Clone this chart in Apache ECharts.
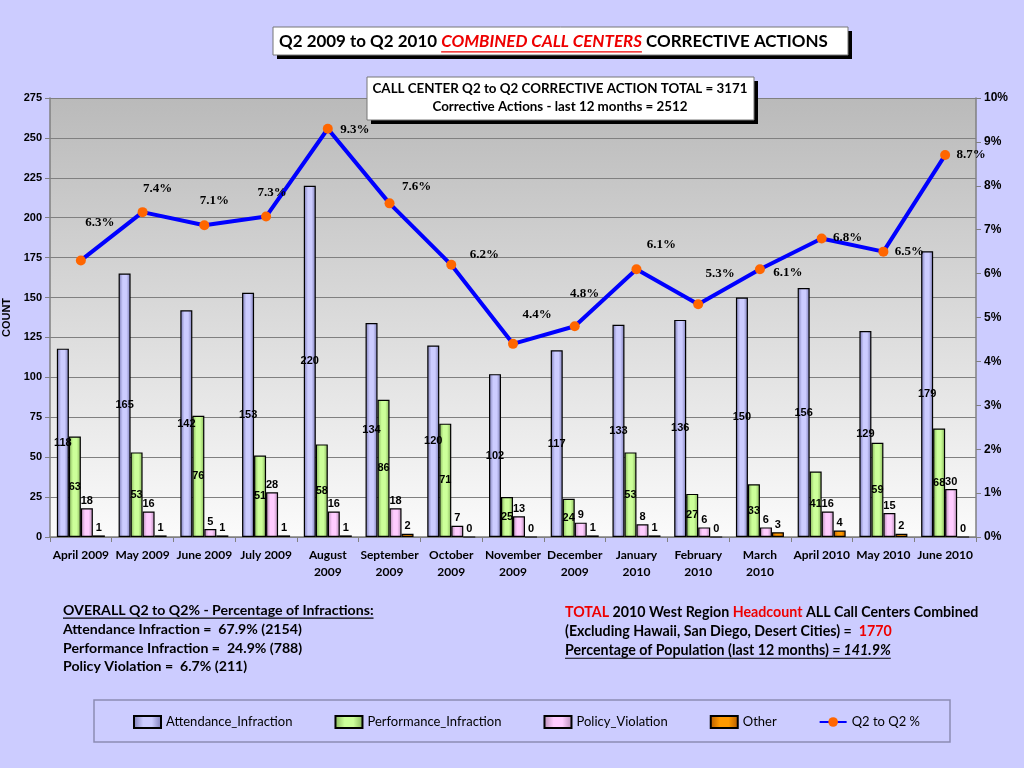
<!DOCTYPE html>
<html style="height: 100%">
<head>
    <meta charset="utf-8">
</head>
<body style="height: 100%; margin: 0; background: #ccccff">
<div id="container" style="height: 100%"></div>

<script type="text/javascript" src="https://cdn.jsdelivr.net/npm/echarts@6/dist/echarts.min.js"></script>

<script type="text/javascript">
    // data
    var months = ['April 2009', 'May 2009', 'June 2009', 'July 2009', 'August\n2009', 'September\n2009',
        'October\n2009', 'November\n2009', 'December\n2009', 'January\n2010', 'February\n2010',
        'March\n2010', 'April 2010', 'May 2010', 'June 2010'];
    var attendance = [118, 165, 142, 153, 220, 134, 120, 102, 117, 133, 136, 150, 156, 129, 179];
    var performance = [63, 53, 76, 51, 58, 86, 71, 25, 24, 53, 27, 33, 41, 59, 68];
    var policy = [18, 16, 5, 28, 16, 18, 7, 13, 9, 8, 6, 6, 16, 15, 30];
    var other = [1, 1, 1, 1, 1, 2, 0, 0, 1, 1, 0, 3, 4, 2, 0];
    var q2Pct = [6.3, 7.4, 7.1, 7.3, 9.3, 7.6, 6.2, 4.4, 4.8, 6.1, 5.3, 6.1, 6.8, 6.5, 8.7];

    // where each % label sits relative to its point (style only)
    var pctLabelOffset = [[19, -38], [15, -23], [10, -25], [6, -24], [27, 1], [27, -17], [33, -10],
        [24, -29], [10, -33], [25, -25], [22, -31], [28, 3], [26, -1], [26, 0], [26, 0]];

    var dom = document.getElementById('container');
    var myChart = echarts.init(dom);

    var face = 'Lato';
    var ctx = document.createElement('canvas').getContext('2d');
    function measure(str, size, italic) {
        ctx.font = (italic ? 'italic ' : '') + 'bold ' + size + 'px ' + face;
        return ctx.measureText(str).width;
    }
    function fitSize(str, target) {
        return 20 * target / measure(str, 20);
    }

    // one line of mixed text parts, with optional underline
    function textLine(parts, x, y, size) {
        var els = [];
        parts.forEach(function (p) {
            var w = measure(p.t, size, p.italic);
            els.push({
                type: 'text', x: x, y: y, z: 20,
                style: {
                    text: p.t, fill: p.color || '#000',
                    font: (p.italic ? 'italic ' : '') + 'bold ' + size + 'px ' + face,
                    textAlign: 'left', textVerticalAlign: 'middle'
                }
            });
            if (p.under) {
                els.push({
                    type: 'line', z: 20,
                    shape: {x1: x, y1: y + size * 0.58, x2: x + w, y2: y + size * 0.58},
                    style: {stroke: p.color || '#000', lineWidth: 1.2}
                });
            }
            x += w;
        });
        return els;
    }

    function shadowBox(x, y, w, h) {
        return [
            {type: 'rect', z: 10, shape: {x: x + 4, y: y + 4, width: w, height: h}, style: {fill: '#000'}},
            {type: 'rect', z: 11, shape: {x: x, y: y, width: w, height: h}, style: {fill: '#fff', stroke: '#777', lineWidth: 1}}
        ];
    }

    var titleStr = 'Q2 2009 to Q2 2010 COMBINED CALL CENTERS CORRECTIVE ACTIONS';
    var titleSize = fitSize(titleStr, 564);
    var subA = 'CALL CENTER Q2 to Q2 CORRECTIVE ACTION TOTAL = 3171';
    var subB = 'Corrective Actions - last 12 months = 2512';
    var subSize = fitSize(subA, 375);
    var leftHead = 'OVERALL Q2 to Q2% - Percentage of Infractions:';
    var leftSize = fitSize(leftHead, 311);
    var rightHead = 'TOTAL 2010 West Region Headcount ALL Call Centers Combined';
    var rightSize = fitSize(rightHead, 414);

    var graphics = [];
    graphics = graphics.concat(shadowBox(273, 27, 575, 28));
    graphics = graphics.concat(textLine([
        {t: 'Q2 2009 to Q2 2010 '},
        {t: 'COMBINED CALL CENTERS', color: '#ee0000', italic: true, under: true},
        {t: ' CORRECTIVE ACTIONS'}
    ], 279, 42, titleSize));

    graphics = graphics.concat(shadowBox(367, 77, 387, 43));
    graphics = graphics.concat(textLine([{t: subA}], 560 - measure(subA, subSize) / 2, 89, subSize));
    graphics = graphics.concat(textLine([{t: subB}], 560 - measure(subB, subSize) / 2, 107, subSize));

    graphics = graphics.concat(textLine([{t: leftHead, under: true}], 63, 610, leftSize));
    graphics = graphics.concat(textLine([{t: 'Attendance Infraction =  67.9% (2154)'}], 63, 629, leftSize));
    graphics = graphics.concat(textLine([{t: 'Performance Infraction =  24.9% (788)'}], 63, 648, leftSize));
    graphics = graphics.concat(textLine([{t: 'Policy Violation =  6.7% (211)'}], 63, 666, leftSize));

    graphics = graphics.concat(textLine([
        {t: 'TOTAL', color: '#ee0000'}, {t: ' 2010 West Region '},
        {t: 'Headcount', color: '#ee0000'}, {t: ' ALL Call Centers Combined'}
    ], 565, 612, rightSize));
    graphics = graphics.concat(textLine([
        {t: '(Excluding Hawaii, San Diego, Desert Cities) =  '}, {t: '1770', color: '#ee0000'}
    ], 565, 631, rightSize));
    graphics = graphics.concat(textLine([
        {t: 'Percentage of Population (last 12 months) ', under: true},
        {t: '= 141.9%', italic: true, under: true}
    ], 565, 650, rightSize));

    // legend frame
    graphics.push({type: 'rect', z: 0, shape: {x: 94, y: 700, width: 856, height: 42},
        style: {fill: '#ccccff', stroke: '#8c8cb4', lineWidth: 1.5}});

    function barFill(edge, mid) {
        return new echarts.graphic.LinearGradient(0, 0, 1, 0, [
            {offset: 0, color: edge}, {offset: 0.35, color: mid},
            {offset: 0.65, color: mid}, {offset: 1, color: edge}
        ]);
    }

    var barLabelFont = {fontFamily: 'Liberation Sans', fontWeight: 'bold', fontSize: 11, color: '#000'};

    function barSeries(name, data, edge, mid, pos) {
        return {
            name: name, type: 'bar', data: data, barWidth: 12, barGap: '0%',
            itemStyle: {color: barFill(edge, mid), borderColor: '#000', borderWidth: 1.2},
            label: Object.assign({show: true, position: pos, distance: 2}, barLabelFont)
        };
    }

    option = {
        backgroundColor: '#ccccff',
        animation: false,
        grid: {
            left: 50, right: 48, top: 98, bottom: 231, show: true,
            outerBoundsMode: 'none', containLabel: false,
            borderWidth: 0,
            backgroundColor: new echarts.graphic.LinearGradient(0, 0, 0, 1, [
                {offset: 0, color: '#bababa'}, {offset: 1, color: '#fbfbfb'}
            ])
        },
        legend: {
            left: 133, top: 715, padding: 0, itemGap: 42, itemWidth: 27, itemHeight: 12,
            textStyle: {fontFamily: face, fontSize: 13, color: '#000'},
            data: [
                {name: 'Attendance_Infraction', icon: 'rect'},
                {name: 'Performance_Infraction', icon: 'rect'},
                {name: 'Policy_Violation', icon: 'rect'},
                {name: 'Other', icon: 'rect'},
                'Q2 to Q2 %'
            ]
        },
        xAxis: {
            type: 'category', data: months,
            axisLine: {lineStyle: {color: '#808080', width: 1.5}},
            axisTick: {show: true, length: 5, lineStyle: {color: '#808080'}},
            axisLabel: {interval: 0, margin: 10, lineHeight: 17, fontFamily: face, fontWeight: 'bold', fontSize: 12, color: '#000'}
        },
        yAxis: [{
            type: 'value', min: 0, max: 275, interval: 25,
            name: 'COUNT', nameLocation: 'middle', nameGap: 38, nameRotate: 90,
            nameTextStyle: {fontFamily: 'Liberation Sans', fontWeight: 'bold', fontSize: 11, color: '#000'},
            axisLine: {show: true, lineStyle: {color: '#808080', width: 1.5}},
            axisTick: {show: true, length: 5, lineStyle: {color: '#808080'}},
            axisLabel: {fontFamily: 'Liberation Sans', fontWeight: 'bold', fontSize: 11, color: '#000', margin: 8},
            splitLine: {lineStyle: {color: '#808080', width: 1}}
        }, {
            type: 'value', min: 0, max: 10, interval: 1,
            axisLine: {show: true, lineStyle: {color: '#808080', width: 1.5}},
            axisTick: {show: true, length: 5, lineStyle: {color: '#808080'}},
            axisLabel: {formatter: '{value}%', fontFamily: 'Liberation Sans', fontWeight: 'bold', fontSize: 12, color: '#000', margin: 8},
            splitLine: {show: false}
        }],
        graphic: graphics,
        series: [
            barSeries('Attendance_Infraction', attendance, '#7a7ab4', '#ccccff', 'inside'),
            barSeries('Performance_Infraction', performance, '#86b45a', '#ccff99', 'inside'),
            barSeries('Policy_Violation', policy, '#b48cb4', '#ffccff', 'top'),
            barSeries('Other', other, '#b45a00', '#ff9900', 'top'),
            {
                name: 'Q2 to Q2 %', type: 'line', yAxisIndex: 1, z: 5,
                data: q2Pct.map(function (v, i) {
                    return {value: v, label: {offset: pctLabelOffset[i]}};
                }),
                lineStyle: {color: '#0000ff', width: 4},
                itemStyle: {color: '#ff6600'},
                symbol: 'circle', symbolSize: 10,
                label: {
                    show: true, position: 'inside', formatter: '{c}%',
                    fontFamily: 'Liberation Serif', fontWeight: 'bold', fontSize: 13, color: '#000'
                }
            }
        ]
    };

    if (option && typeof option === 'object') {
        myChart.setOption(option);
    }
</script>
</body>
</html>
